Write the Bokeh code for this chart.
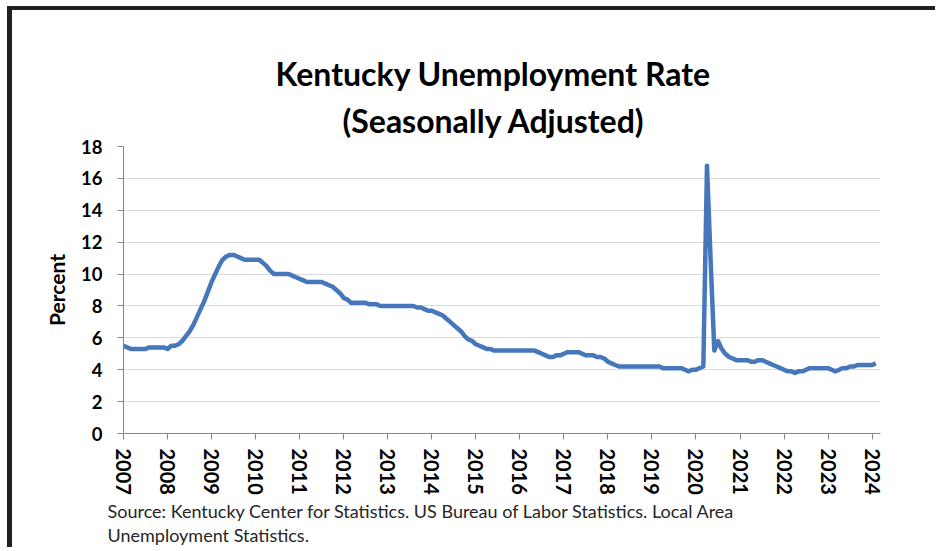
from bokeh.plotting import figure
from bokeh.models import Title, FixedTicker
from bokeh.embed import file_html
from bokeh.resources import INLINE

# ---- data (monthly, seasonally adjusted unemployment rate, %) ----
start_year = 2007
rate_2007 = [5.5, 5.4, 5.3, 5.3, 5.3, 5.3, 5.3, 5.4, 5.4, 5.4, 5.4, 5.4]
rate_2008 = [5.3, 5.5, 5.5, 5.6, 5.8, 6.1, 6.4, 6.8, 7.3, 7.8, 8.3, 8.9]
rate_2009 = [9.5, 10.0, 10.5, 10.9, 11.1, 11.2, 11.2, 11.1, 11.0, 10.9, 10.9, 10.9]
rate_2010 = [10.9, 10.9, 10.7, 10.5, 10.2, 10.0, 10.0, 10.0, 10.0, 10.0, 9.9, 9.8]
rate_2011 = [9.7, 9.6, 9.5, 9.5, 9.5, 9.5, 9.5, 9.4, 9.3, 9.2, 9.0, 8.8]
rate_2012 = [8.5, 8.4, 8.2, 8.2, 8.2, 8.2, 8.2, 8.1, 8.1, 8.1, 8.0, 8.0]
rate_2013 = [8.0, 8.0, 8.0, 8.0, 8.0, 8.0, 8.0, 8.0, 7.9, 7.9, 7.8, 7.7]
rate_2014 = [7.7, 7.6, 7.5, 7.4, 7.2, 7.0, 6.8, 6.6, 6.4, 6.1, 5.9, 5.8]
rate_2015 = [5.6, 5.5, 5.4, 5.3, 5.3, 5.2, 5.2, 5.2, 5.2, 5.2, 5.2, 5.2]
rate_2016 = [5.2, 5.2, 5.2, 5.2, 5.2, 5.1, 5.0, 4.9, 4.8, 4.8, 4.9, 4.9]
rate_2017 = [5.0, 5.1, 5.1, 5.1, 5.1, 5.0, 4.9, 4.9, 4.9, 4.8, 4.8, 4.7]
rate_2018 = [4.5, 4.4, 4.3, 4.2, 4.2, 4.2, 4.2, 4.2, 4.2, 4.2, 4.2, 4.2]
rate_2019 = [4.2, 4.2, 4.2, 4.1, 4.1, 4.1, 4.1, 4.1, 4.1, 4.0, 3.9, 4.0]
rate_2020 = [4.0, 4.1, 4.2, 16.8, 10.8, 5.2, 5.8, 5.3, 5.0, 4.8, 4.7, 4.6]
rate_2021 = [4.6, 4.6, 4.6, 4.5, 4.5, 4.6, 4.6, 4.5, 4.4, 4.3, 4.2, 4.1]
rate_2022 = [4.0, 3.9, 3.9, 3.8, 3.9, 3.9, 4.0, 4.1, 4.1, 4.1, 4.1, 4.1]
rate_2023 = [4.1, 4.0, 3.9, 4.0, 4.1, 4.1, 4.2, 4.2, 4.3, 4.3, 4.3, 4.3]
rate_2024 = [4.3, 4.4]

year_ticks = [2007, 2008, 2009, 2010, 2011, 2012, 2013, 2014, 2015,
              2016, 2017, 2018, 2019, 2020, 2021, 2022, 2023, 2024]
year_labels = ["2007", "2008", "2009", "2010", "2011", "2012", "2013", "2014", "2015",
               "2016", "2017", "2018", "2019", "2020", "2021", "2022", "2023", "2024"]
y_ticks = [0, 2, 4, 6, 8, 10, 12, 14, 16, 18]

title_line1 = "Kentucky Unemployment Rate"
title_line2 = "(Seasonally Adjusted)"
source_line1 = "Source: Kentucky Center for Statistics. US Bureau of Labor Statistics. Local Area"
source_line2 = "Unemployment Statistics."
y_label = "Percent"

rates = (rate_2007 + rate_2008 + rate_2009 + rate_2010 + rate_2011 + rate_2012 +
         rate_2013 + rate_2014 + rate_2015 + rate_2016 + rate_2017 + rate_2018 +
         rate_2019 + rate_2020 + rate_2021 + rate_2022 + rate_2023 + rate_2024)
months = [start_year + i / 12 for i in range(len(rates))]

# ---- figure ----
# page: 7px/6px blank, then 5px left / 4px top black border, then the canvas
p = figure(width=928, height=541, x_range=(2007, 2024.19), y_range=(0, 18),
           output_backend="svg", toolbar_location=None,
           min_border_left=111, min_border_right=60,
           min_border_top=136, min_border_bottom=118)
p.styles = {"border-top": "4px solid #231F20", "border-left": "5px solid #231F20",
            "margin-top": "6px", "margin-left": "7px"}
p.outline_line_color = None
p.background_fill_color = "white"
p.border_fill_color = "white"

p.line(months, rates, line_color="#4677BA", line_width=4.5, line_join="round")

p.xgrid.visible = False
p.ygrid.grid_line_color = "#D9D9D9"
p.ygrid.grid_line_width = 1

for ax in (p.xaxis[0], p.yaxis[0]):
    ax.axis_line_color = "#868686"
    ax.major_tick_line_color = "#868686"
    ax.major_tick_out = 6
    ax.major_tick_in = 0
    ax.minor_tick_line_color = None
    ax.major_label_text_font = "Lato"
    ax.major_label_text_font_style = "bold"
    ax.major_label_text_color = "black"

p.xaxis.ticker = FixedTicker(ticks=year_ticks)
p.xaxis.major_label_overrides = {t: s for t, s in zip(year_ticks, year_labels)}
p.xaxis.major_label_orientation = "vertical"
p.xaxis.major_label_text_font_size = "20px"
p.xaxis.major_label_standoff = 9

p.yaxis.ticker = FixedTicker(ticks=y_ticks)
p.yaxis.major_label_text_font_size = "18.5px"
p.yaxis.major_label_standoff = 15
p.yaxis.axis_label = y_label
p.yaxis.axis_label_text_font = "Lato"
p.yaxis.axis_label_text_font_style = "bold"
p.yaxis.axis_label_text_font_size = "21px"
p.yaxis.axis_label_text_color = "black"
p.yaxis.axis_label_standoff = 9

# ---- titles (p.title is the outer line, the added Title sits next to the frame) ----
p.title.text = title_line1
p.title.align = "left"
p.title.offset = 152
p.title.standoff = -2
p.title.text_font = "Lato"
p.title.text_font_style = "bold"
p.title.text_font_size = "32px"
p.title.text_color = "black"
p.add_layout(Title(text=title_line2, align="left", offset=219, standoff=14,
                   text_font="Lato", text_font_style="bold", text_font_size="32px",
                   text_color="black"), "above")

# ---- source note (below: after the x axis) ----
p.add_layout(Title(text=source_line1, align="left", offset=-16, standoff=0,
                   text_font="Lato", text_font_style="normal", text_font_size="18px",
                   text_color="#262626"), "below")
p.add_layout(Title(text=source_line2, align="left", offset=-16, standoff=0,
                   text_font="Lato", text_font_style="normal", text_font_size="18px",
                   text_color="#262626"), "below")

open("out.html", "w").write(file_html(p, INLINE))
